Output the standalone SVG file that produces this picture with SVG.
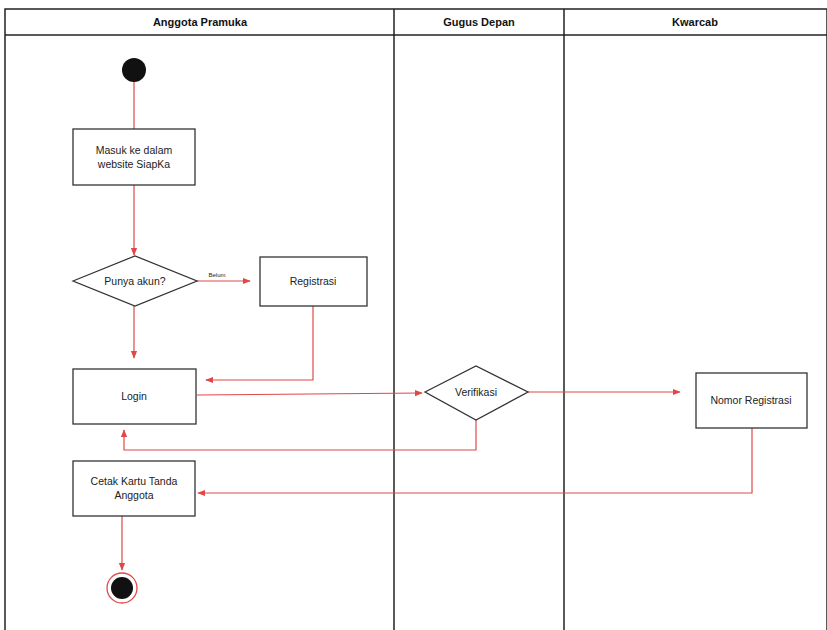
<svg xmlns="http://www.w3.org/2000/svg" width="827" height="630" viewBox="0 0 827 630">
<style>
.lane{fill:none;stroke:#222;stroke-width:1.5}
.hdr{font-family:"Liberation Sans",Arial,sans-serif;font-size:11px;font-weight:bold;fill:#111;text-anchor:middle}
.box{fill:#fff;stroke:#333;stroke-width:1.3}
.t{font-family:"Liberation Sans",Arial,sans-serif;font-size:10.5px;fill:#222;text-anchor:middle}
.e{fill:none;stroke:#e04848;stroke-width:1.2}
</style>
<defs>
<marker id="ah" viewBox="0 0 10 10" refX="9" refY="5" markerWidth="8" markerHeight="8" orient="auto-start-reverse" markerUnits="userSpaceOnUse">
<path d="M0,1 L10,5 L0,9 Z" fill="#e04848"/>
</marker>
</defs>
<rect width="827" height="630" fill="#fff"/>
<g id="lanes">
<rect class="lane" x="5" y="9" width="822" height="630"/>
<line class="lane" x1="5" y1="35" x2="827" y2="35"/>
<line class="lane" x1="394" y1="9" x2="394" y2="630"/>
<line class="lane" x1="564" y1="9" x2="564" y2="630"/>
<text class="hdr" x="200" y="26">Anggota Pramuka</text>
<text class="hdr" x="479" y="26">Gugus Depan</text>
<text class="hdr" x="695" y="26">Kwarcab</text>
</g>
<g id="connectors">
<line class="e" x1="134" y1="82" x2="134" y2="129"/>
<line class="e" x1="134" y1="185" x2="134" y2="255" marker-end="url(#ah)"/>
<line class="e" x1="197" y1="281" x2="250" y2="281" marker-end="url(#ah)"/>
<text x="217" y="277" font-family="Liberation Sans,Arial,sans-serif" font-size="6px" fill="#222" text-anchor="middle">Belum</text>
<polyline class="e" points="313,306 313,380 206,380" marker-end="url(#ah)"/>
<line class="e" x1="134" y1="306" x2="134" y2="358" marker-end="url(#ah)"/>
<line class="e" x1="197" y1="395" x2="422" y2="393" marker-end="url(#ah)"/>
<line class="e" x1="528" y1="392" x2="680" y2="392" marker-end="url(#ah)"/>
<polyline class="e" points="476,420 476,450 124,450 124,430" marker-end="url(#ah)"/>
<polyline class="e" points="752,428 752,493 198,493" marker-end="url(#ah)"/>
<line class="e" x1="122" y1="516" x2="122" y2="570" marker-end="url(#ah)"/>
</g>
<g id="start"><circle cx="134" cy="70" r="12" fill="#111"/></g>
<g id="masuk">
<rect class="box" x="73" y="129" width="122" height="56"/>
<text class="t" x="134" y="154">Masuk ke dalam</text>
<text class="t" x="134" y="168">website SiapKa</text>
</g>
<g id="punya">
<polygon class="box" points="73,281 135,256 197,281 135,306"/>
<text class="t" x="135" y="285">Punya akun?</text>
</g>
<g id="registrasi">
<rect class="box" x="260" y="257" width="107" height="49"/>
<text class="t" x="313" y="285">Registrasi</text>
</g>
<g id="login">
<rect class="box" x="73" y="369" width="123" height="55"/>
<text class="t" x="134" y="400">Login</text>
</g>
<g id="verifikasi">
<polygon class="box" points="425,392 476,366 528,392 476,420"/>
<text class="t" x="476" y="396">Verifikasi</text>
</g>
<g id="nomor">
<rect class="box" x="696" y="373" width="111" height="55"/>
<text class="t" x="751" y="404">Nomor Registrasi</text>
</g>
<g id="cetak">
<rect class="box" x="73" y="461" width="122" height="55"/>
<text class="t" x="134" y="485">Cetak Kartu Tanda</text>
<text class="t" x="134" y="499">Anggota</text>
</g>
<g id="end">
<circle cx="122" cy="588" r="15" fill="#fff" stroke="#e04848" stroke-width="1.3"/>
<circle cx="122" cy="588" r="11" fill="#111"/>
</g>
</svg>
